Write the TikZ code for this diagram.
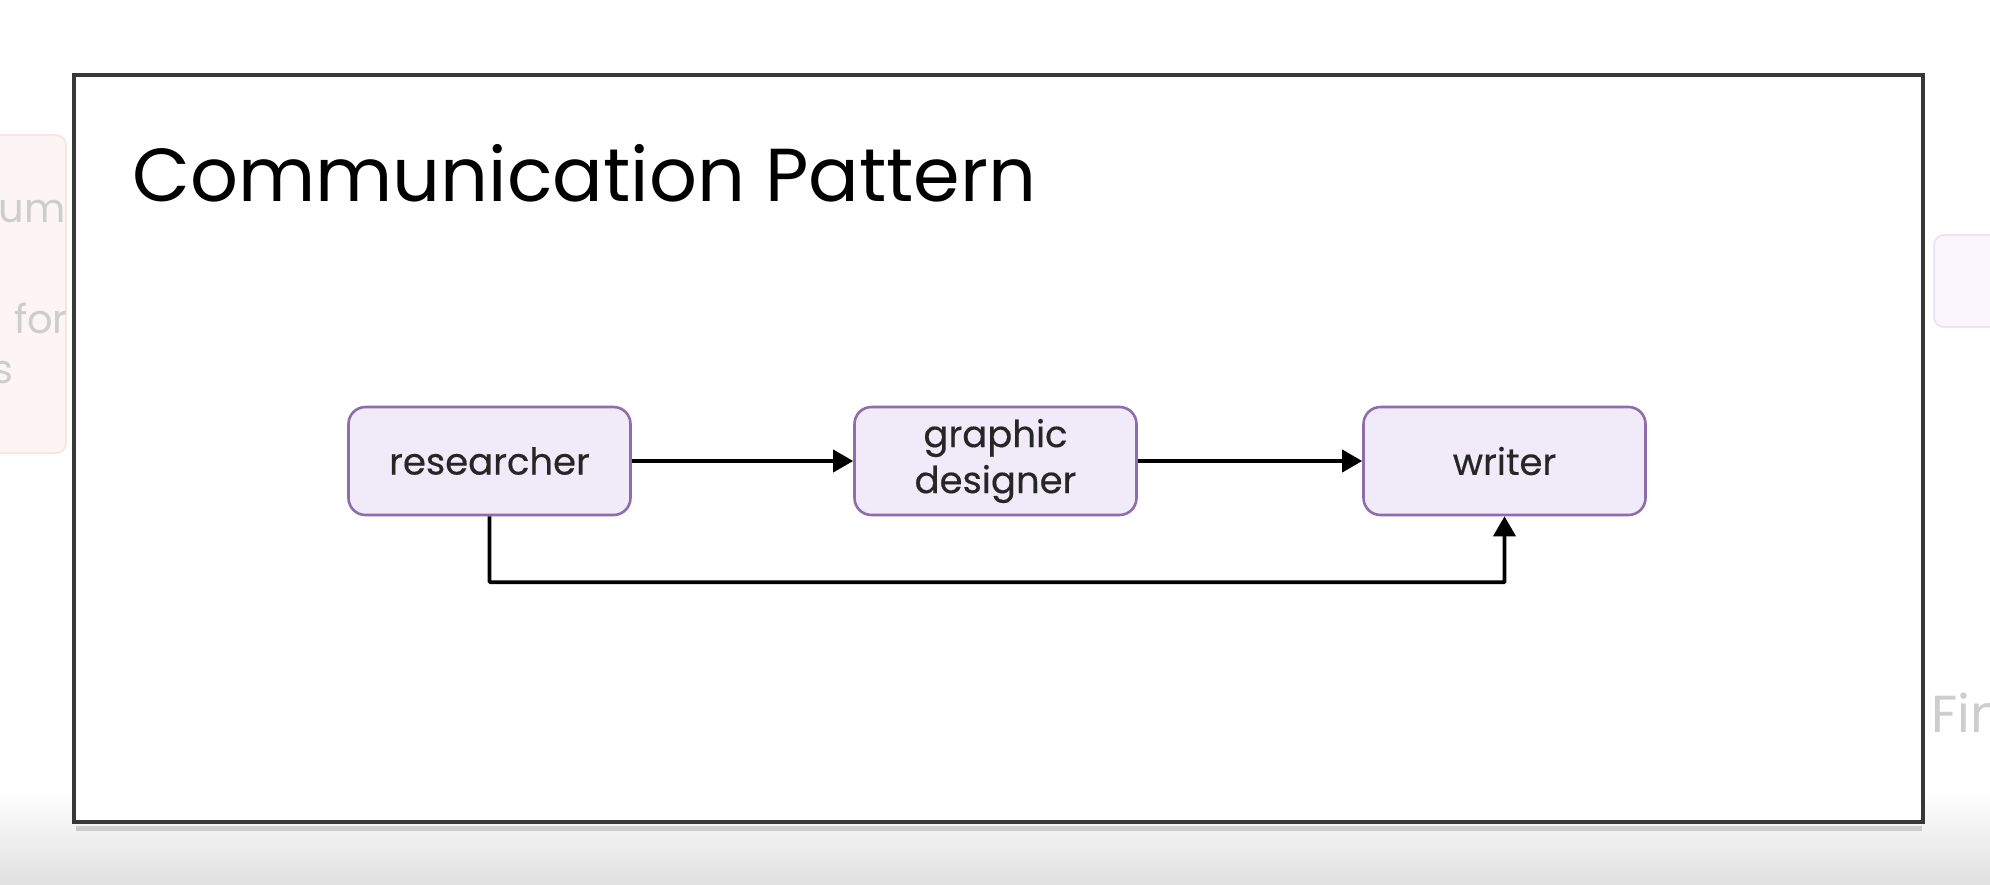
\documentclass[tikz,border=0pt]{standalone}
\usepackage{fontspec}
\setmainfont{Poppins}
\usetikzlibrary{arrows.meta}
\definecolor{boxfill}{HTML}{F1EAF9}
\definecolor{boxline}{HTML}{8F6DAD}
\definecolor{nodetext}{HTML}{262626}
\definecolor{framecol}{HTML}{383838}
\definecolor{fadetext}{HTML}{CDCDCD}
\definecolor{fadepink}{HTML}{FDF5F5}
\definecolor{fadepinkline}{HTML}{F8E6E6}
\definecolor{fadelav}{HTML}{FAF6FD}
\definecolor{fadelavline}{HTML}{ECE6F2}
\definecolor{bandgray}{HTML}{E0E0E0}
\tikzset{
  agent/.style={draw=boxline, fill=boxfill, line width=2.6pt, rounded corners=17pt,
    minimum width=282pt, minimum height=108pt, align=center, text=nodetext,
    font=\fontsize{37}{46}\selectfont\addfontfeature{FakeBold=0.4}, inner sep=0pt},
  flow/.style={draw=black, line width=3.8pt, -{Triangle[length=20pt,width=22pt]}},
  fade/.style={text=fadetext, anchor=base east, inner sep=0pt, font=\fontsize{40}{40}\selectfont}
}
\begin{document}
\begin{tikzpicture}[x=1pt,y=-1pt]
\useasboundingbox (0,0) rectangle (1990,884);
% background with bottom gray band
\fill[white] (0,0) rectangle (1990,884);
\shade[top color=white, bottom color=bandgray] (0,790) rectangle (1990,884);
% faded background elements
\begin{scope}
\clip (0,0) rectangle (68,884);
\draw[fill=fadepink, draw=fadepinkline, line width=2pt, rounded corners=10pt] (-60,135) rectangle (66,453);
\node[fade] (fadeA) at (66,222) {Medium};
\node[fade] (fadeB) at (68,333) {for};
\node[fade] (fadeC) at (14,383) {s};
\end{scope}
\begin{scope}
\clip (1928,0) rectangle (1990,884);
\draw[fill=fadelav, draw=fadelavline, line width=2pt, rounded corners=10pt] (1934,235) rectangle (2100,327);
\node[text=fadetext, anchor=base west, inner sep=0pt, font=\fontsize{52}{52}\selectfont] (fadeD) at (1931,732) {Final};
\end{scope}
% frame
\draw[gray!40, line width=5pt] (76,828) -- (1922,828);
\draw[framecol, fill=white, line width=3.6pt] (74,75) rectangle (1923,822);
% title
\node[anchor=base west, inner sep=0pt, font=\fontsize{75}{75}\selectfont, text=black] (title) at (132,201) {Communication Pattern};
% agents
\node[agent] (res) at (489.5,461) {researcher};
\node[agent] (gd) at (995.5,461) {graphic\\designer};
\node[agent] (wr) at (1504.5,461) {writer};
% connectors
\draw[flow] (res.east) -- (gd.west);
\draw[flow] (gd.east) -- (wr.west);
\draw[flow, rounded corners=1pt] (res.south) -- ++(0,66) -| (wr.south);
\end{tikzpicture}
\end{document}
